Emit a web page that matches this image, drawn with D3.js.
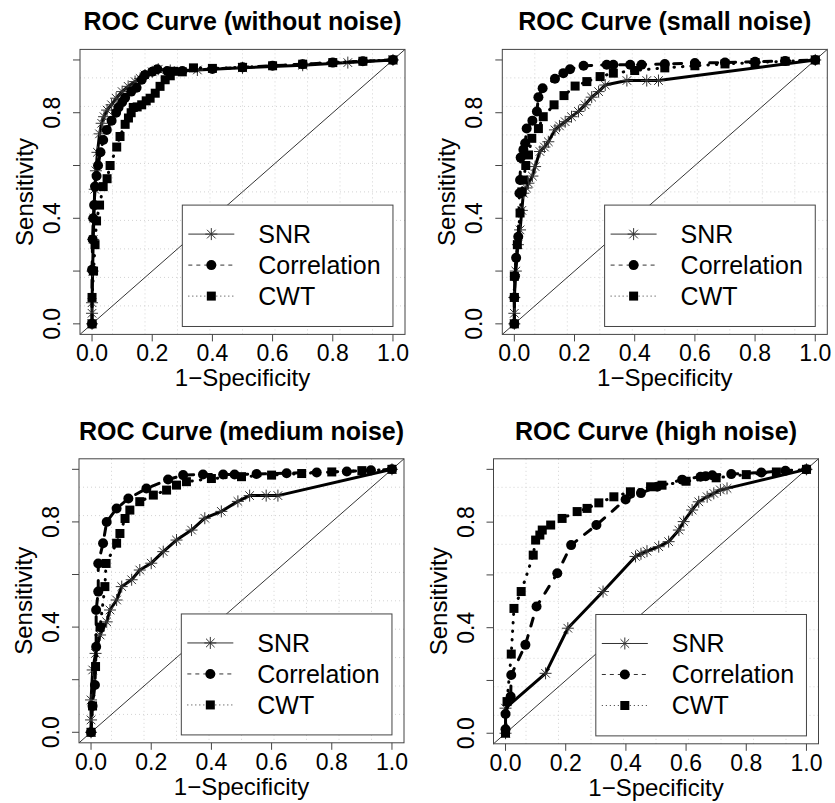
<!DOCTYPE html>
<html>
<head>
<meta charset="utf-8">
<script src="https://cdn.jsdelivr.net/npm/d3@7"></script>
<style>
  body { margin: 0; background: #fff; }
  text { font-family: "Liberation Sans", Arial, Helvetica, sans-serif; fill: #000; }
</style>
</head>
<body>
<svg id="chart" width="835" height="803"></svg>
<script>
// ---- data ----
const titles = ["ROC Curve (without noise)", "ROC Curve (small noise)",
                "ROC Curve (medium noise)", "ROC Curve (high noise)"];
const series_names = ["SNR", "Correlation", "CWT"];
const x_ticks = [0, 0.2, 0.4, 0.6, 0.8, 1.0];
const y_ticks = [0, 0.2, 0.4, 0.6, 0.8, 1.0];
const y_tick_labels = [0, 0.4, 0.8];

// without noise
const snr_x_1 = [0, 0, 0, 0.002, 0.004, 0.006, 0.009, 0.013, 0.018, 0.025, 0.032, 0.04, 0.05, 0.065, 0.08, 0.1, 0.12, 0.143, 0.16, 0.176, 0.2, 0.22, 0.26, 0.35, 0.5, 0.7, 0.85, 1];
const snr_y_1 = [0, 0.04, 0.08, 0.2, 0.32, 0.4, 0.51, 0.58, 0.65, 0.72, 0.76, 0.785, 0.81, 0.83, 0.855, 0.88, 0.9, 0.918, 0.93, 0.943, 0.955, 0.965, 0.96, 0.962, 0.97, 0.98, 0.99, 1];
const cor_x_1 = [0, 0, 0.002, 0.004, 0.007, 0.01, 0.015, 0.02, 0.028, 0.037, 0.049, 0.065, 0.08, 0.088, 0.1, 0.11, 0.13, 0.148, 0.165, 0.176, 0.2, 0.217, 0.25, 0.3, 0.4, 0.5, 0.6, 0.7, 0.8, 0.9, 1];
const cor_y_1 = [0, 0.205, 0.32, 0.4, 0.45, 0.52, 0.56, 0.6, 0.65, 0.697, 0.735, 0.77, 0.8, 0.82, 0.84, 0.857, 0.88, 0.895, 0.925, 0.943, 0.955, 0.965, 0.958, 0.958, 0.966, 0.972, 0.978, 0.984, 0.99, 0.995, 1];
const cwt_x_1 = [0, 0, 0.005, 0.01, 0.015, 0.025, 0.037, 0.05, 0.06, 0.082, 0.093, 0.11, 0.121, 0.13, 0.137, 0.15, 0.165, 0.18, 0.193, 0.21, 0.226, 0.243, 0.26, 0.271, 0.3, 0.337, 0.4, 0.5, 0.6, 0.7, 0.8, 0.9, 1];
const cwt_y_1 = [0, 0.1, 0.2, 0.3, 0.39, 0.45, 0.52, 0.55, 0.6, 0.67, 0.71, 0.756, 0.78, 0.8, 0.82, 0.822, 0.83, 0.845, 0.855, 0.874, 0.9, 0.925, 0.94, 0.957, 0.955, 0.97, 0.968, 0.972, 0.978, 0.984, 0.99, 0.995, 1];

// small noise
const snr_x_2 = [0, 0, 0, 0.005, 0.012, 0.019, 0.025, 0.03, 0.04, 0.047, 0.06, 0.069, 0.085, 0.1, 0.113, 0.135, 0.15, 0.169, 0.19, 0.213, 0.235, 0.257, 0.28, 0.302, 0.374, 0.44, 0.479, 1];
const snr_y_2 = [0, 0.04, 0.1, 0.2, 0.3, 0.356, 0.43, 0.495, 0.515, 0.533, 0.56, 0.596, 0.653, 0.67, 0.69, 0.735, 0.75, 0.766, 0.785, 0.805, 0.83, 0.859, 0.88, 0.905, 0.922, 0.922, 0.922, 1];
const cor_x_2 = [0, 0, 0.002, 0.006, 0.013, 0.017, 0.019, 0.021, 0.03, 0.036, 0.041, 0.06, 0.075, 0.08, 0.094, 0.135, 0.163, 0.185, 0.23, 0.307, 0.329, 0.385, 0.423, 0.5, 0.6, 0.7, 0.8, 0.9, 1];
const cor_y_2 = [0, 0.1, 0.18, 0.25, 0.33, 0.495, 0.545, 0.63, 0.66, 0.684, 0.74, 0.77, 0.805, 0.859, 0.893, 0.929, 0.95, 0.965, 0.978, 0.982, 0.982, 0.982, 0.982, 0.985, 0.988, 0.99, 0.993, 0.996, 1];
const cwt_x_2 = [0, 0, 0, 0.01, 0.019, 0.025, 0.03, 0.038, 0.047, 0.058, 0.08, 0.096, 0.132, 0.165, 0.202, 0.241, 0.285, 0.329, 0.4, 0.5, 0.6, 0.7, 0.8, 0.9, 1];
const cwt_y_2 = [0, 0.1, 0.18, 0.3, 0.42, 0.5, 0.545, 0.6, 0.64, 0.703, 0.74, 0.785, 0.83, 0.865, 0.901, 0.918, 0.937, 0.95, 0.96, 0.97, 0.978, 0.985, 0.99, 0.995, 1];

// medium noise
const snr_x_3 = [0, 0, 0, 0.0055, 0.015, 0.03, 0.052, 0.063, 0.085, 0.102, 0.135, 0.162, 0.2, 0.24, 0.284, 0.334, 0.378, 0.433, 0.488, 0.527, 0.582, 0.621, 1];
const snr_y_3 = [0, 0.047, 0.123, 0.237, 0.3, 0.37, 0.42, 0.465, 0.503, 0.554, 0.58, 0.617, 0.643, 0.687, 0.731, 0.769, 0.814, 0.84, 0.878, 0.9, 0.9, 0.9, 1];
const cor_x_3 = [0, 0.005, 0.013, 0.017, 0.017, 0.024, 0.024, 0.04, 0.052, 0.085, 0.124, 0.184, 0.256, 0.306, 0.372, 0.439, 0.477, 0.55, 0.65, 0.75, 0.85, 0.93, 1];
const cor_y_3 = [0, 0.1, 0.18, 0.325, 0.465, 0.535, 0.642, 0.719, 0.8, 0.851, 0.889, 0.927, 0.961, 0.978, 0.98, 0.98, 0.98, 0.982, 0.985, 0.988, 0.992, 0.996, 1];
const cwt_x_3 = [0, 0.005, 0.015, 0.03, 0.046, 0.05, 0.085, 0.096, 0.113, 0.129, 0.162, 0.207, 0.251, 0.284, 0.317, 0.4, 0.5, 0.6, 0.7, 0.8, 0.9, 1];
const cwt_y_3 = [0, 0.1, 0.25, 0.4, 0.554, 0.642, 0.719, 0.756, 0.813, 0.845, 0.877, 0.902, 0.921, 0.94, 0.953, 0.965, 0.972, 0.978, 0.984, 0.99, 0.995, 1];

// high noise
const snr_x_4 = [0, 0, 0.133, 0.207, 0.324, 0.432, 0.45, 0.47, 0.509, 0.542, 0.576, 0.592, 0.62, 0.642, 0.67, 0.692, 0.714, 0.736, 1];
const snr_y_4 = [0, 0.095, 0.227, 0.398, 0.537, 0.67, 0.68, 0.69, 0.707, 0.726, 0.77, 0.802, 0.846, 0.877, 0.896, 0.909, 0.922, 0.928, 1];
const cor_x_4 = [0, 0, 0.017, 0.019, 0.066, 0.103, 0.172, 0.218, 0.302, 0.399, 0.45, 0.504, 0.587, 0.648, 0.665, 0.687, 0.75, 0.85, 0.93, 1];
const cor_y_4 = [0.015, 0.073, 0.139, 0.221, 0.335, 0.48, 0.606, 0.713, 0.789, 0.886, 0.91, 0.934, 0.961, 0.972, 0.974, 0.978, 0.982, 0.988, 0.995, 1];
const cwt_x_4 = [0, 0.005, 0.019, 0.028, 0.052, 0.092, 0.1, 0.114, 0.122, 0.15, 0.188, 0.238, 0.271, 0.31, 0.36, 0.415, 0.482, 0.52, 0.6, 0.7, 0.8, 0.9, 1];
const cwt_y_4 = [0, 0.12, 0.3, 0.473, 0.537, 0.675, 0.732, 0.751, 0.77, 0.789, 0.814, 0.84, 0.852, 0.873, 0.896, 0.915, 0.934, 0.94, 0.955, 0.968, 0.98, 0.99, 1];

const panel_data = [
  [[snr_x_1, snr_y_1], [cor_x_1, cor_y_1], [cwt_x_1, cwt_y_1]],
  [[snr_x_2, snr_y_2], [cor_x_2, cor_y_2], [cwt_x_2, cwt_y_2]],
  [[snr_x_3, snr_y_3], [cor_x_3, cor_y_3], [cwt_x_3, cwt_y_3]],
  [[snr_x_4, snr_y_4], [cor_x_4, cor_y_4], [cwt_x_4, cwt_y_4]]
];

// ---- layout: plot box of each panel (pixels) ----
const boxes = [
  {x: 80, y: 49.4, w: 325, h: 285},
  {x: 502.3, y: 49.4, w: 325, h: 285},
  {x: 79, y: 458.8, w: 325, h: 284},
  {x: 493.5, y: 458.8, w: 325, h: 285}
];

const svg = d3.select("#chart");

// line styles for each series: solid, dashed, dotted
const styles = [
  {dash: null, legend_dash: null},
  {dash: "8,10", legend_dash: "4,4"},
  {dash: "0.5,8", legend_dash: "1,3"}
];

const asterisk = "M-6,0L6,0M0,-6L0,6M-4.3,-4.3L4.3,4.3M-4.3,4.3L4.3,-4.3";

function draw_marker(g, k, cx, cy){
  if (k === 0) {
    g.append("path").attr("d", asterisk)
      .attr("transform", `translate(${cx},${cy})`)
      .attr("stroke", "#333").attr("stroke-width", 1).attr("fill", "none");
  } else if (k === 1) {
    g.append("circle").attr("cx", cx).attr("cy", cy).attr("r", 5).attr("fill", "#000");
  } else {
    g.append("rect").attr("x", cx - 4.5).attr("y", cy - 4.5)
      .attr("width", 9).attr("height", 9).attr("fill", "#000");
  }
}

boxes.forEach((b, p) => {
  const x = d3.scaleLinear().domain([-0.04, 1.04]).range([b.x, b.x + b.w]);
  const y = d3.scaleLinear().domain([-0.04, 1.04]).range([b.y + b.h, b.y]);
  const g = svg.append("g");

  // grid (10 x 10 across the plot region)
  const grid_steps = d3.range(1, 10).map(i => -0.04 + i * 0.108);
  g.append("g").selectAll("line").data(grid_steps).join("line")
    .attr("x1", d => x(d)).attr("x2", d => x(d))
    .attr("y1", b.y).attr("y2", b.y + b.h)
    .attr("stroke", "#d3d3d3").attr("stroke-dasharray", "1,3");
  g.append("g").selectAll("line").data(grid_steps).join("line")
    .attr("y1", d => y(d)).attr("y2", d => y(d))
    .attr("x1", b.x).attr("x2", b.x + b.w)
    .attr("stroke", "#d3d3d3").attr("stroke-dasharray", "1,3");

  // diagonal reference
  g.append("line")
    .attr("x1", x(-0.04)).attr("y1", y(-0.04))
    .attr("x2", x(1.04)).attr("y2", y(1.04))
    .attr("stroke", "#000").attr("stroke-width", 0.8);

  // curves
  const line = d3.line().x(d => x(d[0])).y(d => y(d[1]));
  panel_data[p].forEach((s, k) => {
    const pts = s[0].map((v, i) => [v, s[1][i]]);
    g.append("path").datum(pts)
      .attr("d", line)
      .attr("fill", "none")
      .attr("stroke", "#000")
      .attr("stroke-width", 3)
      .attr("stroke-linecap", "round")
      .attr("stroke-linejoin", "round")
      .attr("stroke-dasharray", styles[k].dash);
    const mg = g.append("g");
    pts.forEach(d => draw_marker(mg, k, x(d[0]), y(d[1])));
  });

  // box
  g.append("rect")
    .attr("x", b.x).attr("y", b.y).attr("width", b.w).attr("height", b.h)
    .attr("fill", "none").attr("stroke", "#444");

  // x axis
  g.append("g").selectAll("line").data(x_ticks).join("line")
    .attr("x1", d => x(d)).attr("x2", d => x(d))
    .attr("y1", b.y + b.h).attr("y2", b.y + b.h + 7)
    .attr("stroke", "#444");
  g.append("g").selectAll("text").data(x_ticks).join("text")
    .attr("x", d => x(d)).attr("y", b.y + b.h + 27)
    .attr("text-anchor", "middle").style("font-size", "23px")
    .text(d => d.toFixed(1));
  g.append("text")
    .attr("x", b.x + b.w / 2).attr("y", b.y + b.h + 52)
    .attr("text-anchor", "middle").style("font-size", "24px")
    .text("1\u2212Specificity");

  // y axis
  g.append("g").selectAll("line").data(y_ticks).join("line")
    .attr("y1", d => y(d)).attr("y2", d => y(d))
    .attr("x1", b.x).attr("x2", b.x - 7)
    .attr("stroke", "#444");
  g.append("g").selectAll("text").data(y_tick_labels).join("text")
    .attr("transform", d => `translate(${b.x - 20},${y(d)}) rotate(-90)`)
    .attr("text-anchor", "middle").style("font-size", "23px")
    .text(d => d.toFixed(1));
  g.append("text")
    .attr("transform", `translate(${b.x - 47},${b.y + b.h / 2}) rotate(-90)`)
    .attr("text-anchor", "middle").style("font-size", "24px")
    .text("Sensitivity");

  // title
  g.append("text")
    .attr("x", b.x + b.w / 2).attr("y", b.y - 19)
    .attr("text-anchor", "middle")
    .style("font-size", "25px").style("font-weight", "bold")
    .text(titles[p]);

  // legend
  const lx = x(0.3), lr = x(1.0), lt = y(0.45), lb = y(-0.01);
  const legend = g.append("g");
  legend.append("rect")
    .attr("x", lx).attr("y", lt).attr("width", lr - lx).attr("height", lb - lt)
    .attr("fill", "#fff").attr("stroke", "#444");
  series_names.forEach((name, k) => {
    const ry = lt + 29 + k * 31;
    legend.append("line")
      .attr("x1", lx + 6).attr("x2", lx + 52).attr("y1", ry).attr("y2", ry)
      .attr("stroke", "#333").attr("stroke-width", 1)
      .attr("stroke-dasharray", styles[k].legend_dash);
    draw_marker(legend, k, lx + 29, ry);
    legend.append("text")
      .attr("x", lx + 76).attr("y", ry)
      .attr("dominant-baseline", "central")
      .style("font-size", "25px")
      .text(name);
  });
});
</script>
</body>
</html>
